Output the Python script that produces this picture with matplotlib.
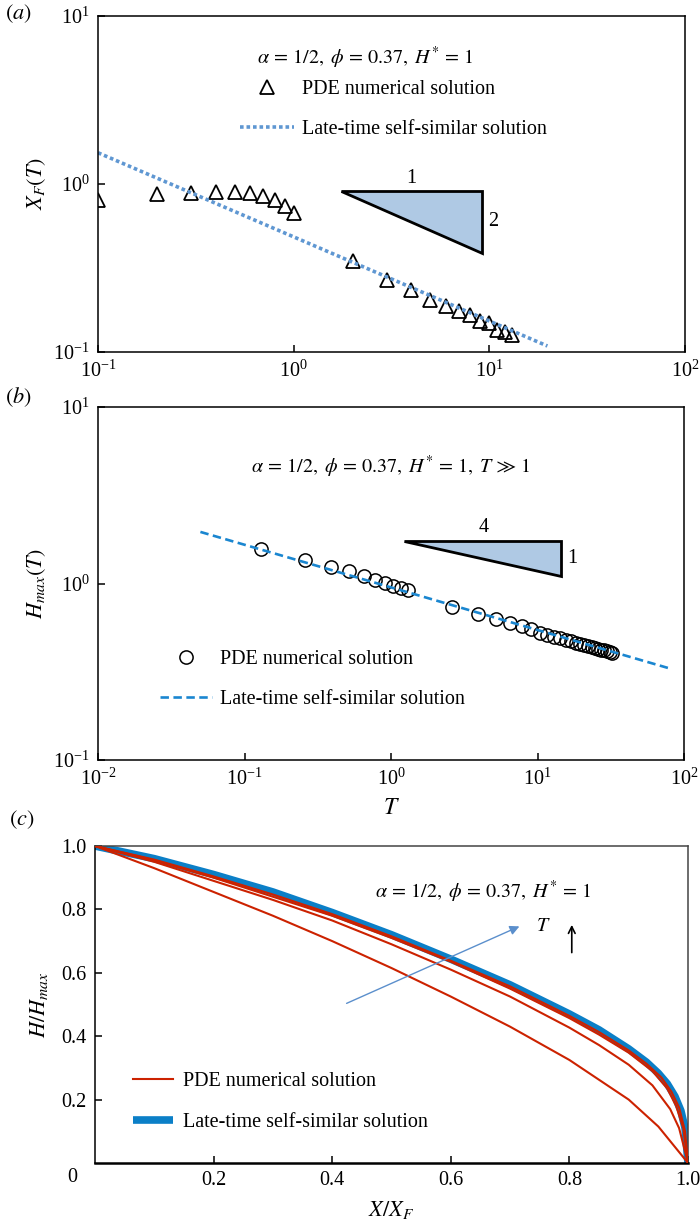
import matplotlib
matplotlib.use("Agg")
import matplotlib.pyplot as plt
from matplotlib.ticker import LogLocator, NullLocator, LogFormatterSciNotation

plt.rcParams['font.family'] = ['Liberation Serif', 'DejaVu Serif']
plt.rcParams['mathtext.fontset'] = 'stix'

# ---- panel (a): front position
T_a = [0.1, 0.2, 0.3, 0.4, 0.5, 0.6, 0.7, 0.8, 0.9, 1.0,
       2, 3, 4, 5, 6, 7, 8, 9, 10, 11, 12, 13]
XF_a = [0.80, 0.87, 0.89, 0.90, 0.90, 0.89, 0.85, 0.80, 0.74, 0.67,
        0.35, 0.27, 0.234, 0.204, 0.188, 0.176, 0.166, 0.153, 0.148, 0.136, 0.132, 0.126]
T_ss_a = [0.1, 19.8]
XF_ss_a = [1.535, 0.1086]

# ---- panel (b): maximum height
T_b = [0.13, 0.26, 0.39, 0.52, 0.65, 0.78, 0.91, 1.04, 1.17, 1.3,
       2.6, 3.9, 5.2, 6.5, 7.8, 9.1, 10.4, 11.7, 13.0, 14.3, 15.6, 16.9,
       18.2, 19.5, 20.8, 22.1, 23.4, 24.7, 26.0, 27.3, 28.6, 29.9, 31.2, 32.5]
H_b = [1.57, 1.367, 1.24, 1.17, 1.11, 1.05, 1.01, 0.966, 0.946, 0.913,
       0.738, 0.671, 0.631, 0.600, 0.574, 0.550, 0.526, 0.512, 0.500, 0.489,
       0.480, 0.471, 0.463, 0.456, 0.450, 0.443, 0.438, 0.432, 0.427, 0.422,
       0.418, 0.414, 0.410, 0.406]
T_ss_b = [0.05, 80]
H_ss_b = [1.96, 0.33]

# ---- panel (c): profiles
x_ss = [0, 0.05, 0.1, 0.2, 0.3, 0.4, 0.5, 0.6, 0.7, 0.8, 0.85, 0.9, 0.93,
        0.95, 0.965, 0.978, 0.988, 0.995, 1.0]
h_ss = [1.0, 0.98, 0.96, 0.91, 0.855, 0.79, 0.72, 0.643, 0.562, 0.47, 0.42,
        0.36, 0.318, 0.283, 0.25, 0.21, 0.165, 0.11, 0.0]
x_p1 = [0, 0.1, 0.2, 0.3, 0.4, 0.5, 0.6, 0.7, 0.8, 0.9, 0.95, 1.0]
h_p1 = [1.0, 0.93, 0.855, 0.78, 0.70, 0.615, 0.525, 0.43, 0.325, 0.2, 0.115, 0.0]
x_p2 = [0, 0.1, 0.2, 0.3, 0.4, 0.5, 0.6, 0.7, 0.8, 0.85, 0.9, 0.94, 0.97,
        0.985, 1.0]
h_p2 = [1.0, 0.95, 0.89, 0.83, 0.765, 0.69, 0.61, 0.525, 0.427, 0.372, 0.31,
        0.245, 0.17, 0.11, 0.0]
x_p3 = [0, 0.1, 0.2, 0.3, 0.4, 0.5, 0.6, 0.7, 0.8, 0.85, 0.9, 0.94, 0.965,
        0.98, 0.992, 1.0]
h_p3 = [1.0, 0.955, 0.90, 0.84, 0.78, 0.71, 0.635, 0.55, 0.457, 0.405, 0.348,
        0.29, 0.235, 0.18, 0.11, 0.0]
x_p4 = [0, 0.1, 0.2, 0.3, 0.4, 0.5, 0.6, 0.7, 0.8, 0.85, 0.9, 0.93, 0.955,
        0.972, 0.985, 0.995, 1.0]
h_p4 = [1.0, 0.957, 0.904, 0.847, 0.785, 0.715, 0.638, 0.557, 0.464, 0.413,
        0.355, 0.313, 0.27, 0.225, 0.175, 0.1, 0.0]

W, H = 700, 1226
fig = plt.figure(figsize=(7, 12.26), dpi=100)


def box(l, t, r, b):
    # pixel box (top-left origin) -> figure fraction
    return [l / W, 1 - b / H, (r - l) / W, (b - t) / H]


def fx(px):
    return px / W


def fy(py):
    return 1 - py / H


fs = 14.5
label_fs = 16
note = r'$\alpha\,=\,1/2,\;\phi\,=\,0.37,\;H^{*}\,=\,1$'


def style_ax(ax):
    for s in ax.spines.values():
        s.set_linewidth(1.1)
    ax.tick_params(direction='in', length=5, width=1.1, labelsize=fs,
                   top=False, right=False, pad=6)


def log_ax(ax):
    ax.set_xscale('log')
    ax.set_yscale('log')
    ax.xaxis.set_major_locator(LogLocator(base=10, numticks=10))
    ax.yaxis.set_major_locator(LogLocator(base=10, numticks=10))
    ax.xaxis.set_minor_locator(NullLocator())
    ax.yaxis.set_minor_locator(NullLocator())
    ax.xaxis.set_major_formatter(LogFormatterSciNotation())
    ax.yaxis.set_major_formatter(LogFormatterSciNotation())


# ============ (a)
ax1 = fig.add_axes(box(98, 16, 685, 352))
log_ax(ax1)
ax1.plot(T_a, XF_a, linestyle='none', marker='^', markersize=10,
         markerfacecolor='none', markeredgecolor='black', markeredgewidth=1.3,
         label='PDE numerical solution')
ax1.plot(T_ss_a, XF_ss_a, color='#5f97d2', lw=2.6, linestyle=(0, (1, 0.8)),
         label='Late-time self-similar solution')
ax1.set_xlim(0.1, 100)
ax1.set_ylim(0.1, 10)
style_ax(ax1)
ax1.set_ylabel(r'$X_F(T)$', fontsize=label_fs, labelpad=4)
ax1.fill([1.75, 9.14, 9.14], [0.912, 0.912, 0.387], facecolor='#afc9e4',
         edgecolor='black', lw=2.0, zorder=3)
ax1.text(4.0, 0.95, '1', fontsize=fs, ha='center', va='bottom')
ax1.text(9.9, 0.6, '2', fontsize=fs, ha='left', va='center')
ax1.text(0.455, 0.875, note, fontsize=fs, ha='center', va='center',
         transform=ax1.transAxes)
ax1.legend(loc='upper left', bbox_to_anchor=(fx(240), fy(80)),
           bbox_transform=fig.transFigure, frameon=False, fontsize=fs,
           handlelength=2.7, handletextpad=0.4, labelspacing=1.05,
           borderpad=0, borderaxespad=0)

# ============ (b)
ax2 = fig.add_axes(box(98, 407, 684, 760))
log_ax(ax2)
ax2.plot(T_b, H_b, linestyle='none', marker='o', markersize=9.5,
         markerfacecolor='none', markeredgecolor='black', markeredgewidth=1.1,
         label='PDE numerical solution')
ax2.plot(T_ss_b, H_ss_b, color='#1a86d0', lw=1.9, linestyle=(0, (3.2, 1.7)),
         label='Late-time self-similar solution')
ax2.set_xlim(0.01, 100)
ax2.set_ylim(0.1, 10)
style_ax(ax2)
ax2.set_ylabel(r'$H_{max}(T)$', fontsize=label_fs, labelpad=4)
ax2.set_xlabel(r'$T$', fontsize=label_fs + 1, labelpad=6)
ax2.fill([1.23, 14.4, 14.4], [1.73, 1.73, 1.10], facecolor='#afc9e4',
         edgecolor='black', lw=2.0, zorder=3)
ax2.text(4.3, 1.83, '4', fontsize=fs, ha='center', va='bottom')
ax2.text(16.0, 1.38, '1', fontsize=fs, ha='left', va='center')
ax2.text(0.50, 0.83,
         r'$\alpha\,=\,1/2,\;\phi\,=\,0.37,\;H^{*}\,=\,1,\;T\,\gg\,1$',
         fontsize=fs, ha='center', va='center', transform=ax2.transAxes)
ax2.legend(loc='upper left', bbox_to_anchor=(fx(160), fy(650)),
           bbox_transform=fig.transFigure, frameon=False, fontsize=fs,
           handlelength=2.6, handletextpad=0.4, labelspacing=1.05,
           borderpad=0, borderaxespad=0)

# ============ (c)
ax3 = fig.add_axes(box(95, 846, 688, 1163))
ax3.plot(x_ss, h_ss, color='#0b7fc7', lw=5.5, solid_capstyle='butt',
         label='Late-time self-similar solution', zorder=2)
first = True
for xs, hs in [(x_p1, h_p1), (x_p2, h_p2), (x_p3, h_p3), (x_p4, h_p4)]:
    ax3.plot(xs, hs, color='#cc2200', lw=1.5, zorder=3,
             label='PDE numerical solution' if first else None)
    first = False
ax3.set_xlim(0, 1)
ax3.set_ylim(0, 1)
ax3.set_xticks([0.2, 0.4, 0.6, 0.8, 1.0])
ax3.set_xticklabels(['0.2', '0.4', '0.6', '0.8', '1.0'])
ax3.set_yticks([0.2, 0.4, 0.6, 0.8, 1.0])
ax3.set_yticklabels(['0.2', '0.4', '0.6', '0.8', '1.0'])
style_ax(ax3)
for s in ['top', 'right']:
    ax3.spines[s].set_color('#444444')
ax3.spines['bottom'].set_linewidth(1.8)
fig.text(fx(72), fy(1178), '0', fontsize=fs, ha='center', va='center')
ax3.set_ylabel(r'$H/H_{max}$', fontsize=label_fs, labelpad=8)
ax3.set_xlabel(r'$X/X_F$', fontsize=label_fs, labelpad=6)
ax3.text(0.655, 0.855, note, fontsize=fs, ha='center', va='center',
         transform=ax3.transAxes)
ax3.annotate('', xy=(0.72, 0.75), xytext=(0.42, 0.50),
             arrowprops=dict(arrowstyle='-|>', color='#5b8fcc', lw=1.0,
                             mutation_scale=14))
ax3.text(0.756, 0.745, r'$T$', fontsize=fs, ha='center', va='center')
ax3.annotate('', xy=(0.804, 0.76), xytext=(0.804, 0.655),
             arrowprops=dict(arrowstyle='->', color='black', lw=1.2,
                             mutation_scale=12))
h, l = ax3.get_legend_handles_labels()
ax3.legend(h[::-1], l[::-1], loc='upper left', bbox_to_anchor=(fx(133), fy(1072)),
           bbox_transform=fig.transFigure, frameon=False, fontsize=fs,
           handlelength=2.0, handletextpad=0.5, labelspacing=1.1,
           borderpad=0, borderaxespad=0)

fig.text(fx(18), fy(14), r'$(a)$', fontsize=label_fs, ha='center', va='center')
fig.text(fx(18), fy(397), r'$(b)$', fontsize=label_fs, ha='center', va='center')
fig.text(fx(22), fy(820), r'$(c)$', fontsize=label_fs, ha='center', va='center')

fig.savefig('out.png', dpi=100)
